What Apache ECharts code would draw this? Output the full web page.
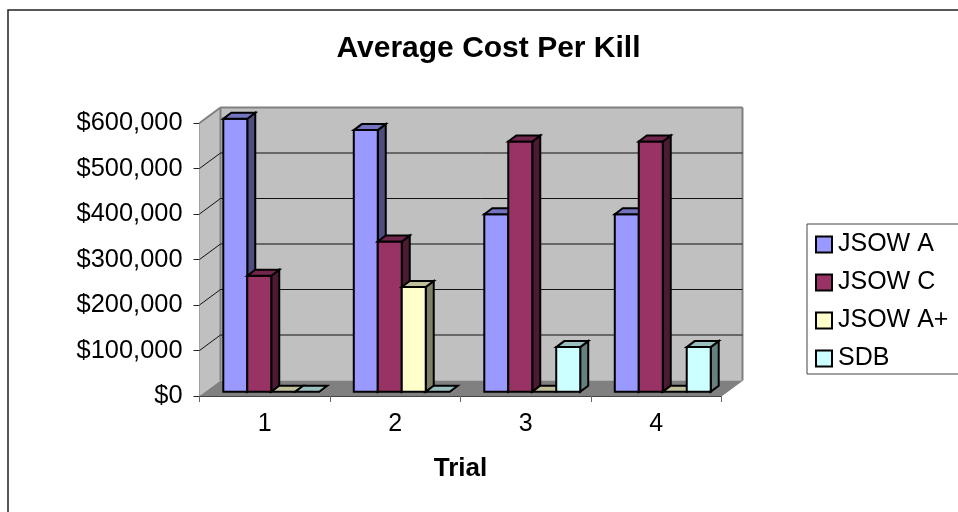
<!DOCTYPE html>
<html>
<head>
<meta charset="utf-8">
<style>html,body{margin:0;padding:0;background:#fff}#c{width:958px;height:512px}</style>
<script src="https://cdn.jsdelivr.net/npm/echarts@6/dist/echarts.min.js"></script>
</head>
<body>
<div id="c"></div>
<script>
var titleText = 'Average Cost Per Kill';
var axisName = 'Trial';
var categories = ['1', '2', '3', '4'];
var yTicks = [0, 100000, 200000, 300000, 400000, 500000, 600000];
var jsowA = [600000, 575000, 390000, 390000];
var jsowC = [255000, 330000, 550000, 550000];
var jsowAPlus = [0, 230000, 0, 0];
var sdb = [0, 0, 98000, 98000];
var seriesNames = ['JSOW A', 'JSOW C', 'JSOW A+', 'SDB'];
var seriesValues = [jsowA, jsowC, jsowAPlus, sdb];
var frontColors = ['#9999FF', '#993366', '#FFFFCC', '#CCFFFF'];
var sideColors = ['#4D4D80', '#4D1A33', '#808066', '#668080'];
var topColors = ['#7373BF', '#73264D', '#BFBF99', '#99BFBF'];

var FONT = '"Liberation Sans", Arial, sans-serif';
var DX = 21, DY = -15.5;       // wall depth
var IN_X = 6.5, IN_Y = -4.3;   // bar inset from the front edge
var BX = 8, BY = -6;           // bar depth
var BAR_RATIO = 24 / 130.6;

function poly(pts, fill, stroke, w) {
  return {type: 'polygon', shape: {points: pts},
    style: {fill: fill, stroke: stroke || null, lineWidth: w || 0, lineJoin: 'miter'}};
}
function line(a, b, stroke, w) {
  return {type: 'line', shape: {x1: a[0], y1: a[1], x2: b[0], y2: b[1]},
    style: {stroke: stroke, lineWidth: w}};
}

function renderWalls(params, api) {
  var v = api.value(0);
  var grid = params.coordSys;
  var L = grid.x, R = grid.x + grid.width;
  var y = api.coord([0, v])[1];
  var kids = [];
  if (params.dataIndex === 0) {
    var T = grid.y, B = grid.y + grid.height;
    kids.push(poly([[L, T], [L + DX, T + DY], [L + DX, B + DY], [L, B]], '#C0C0C0'));
    kids.push(poly([[L + DX, T + DY], [R + DX, T + DY], [R + DX, B + DY], [L + DX, B + DY]], '#C0C0C0'));
    kids.push(poly([[L, B], [L + DX, B + DY], [R + DX, B + DY], [R, B]], '#808080'));
    kids.push(line([L, T], [L + DX, T + DY], '#808080', 2));
    kids.push(line([L + DX, T + DY], [R + DX, T + DY], '#808080', 2));
    kids.push(line([R + DX, T + DY], [R + DX, B + DY], '#808080', 2));
    kids.push(line([L + DX, T + DY], [L + DX, B + DY], '#808080', 2));
    kids.push(line([R, B], [R + DX, B + DY], '#808080', 1));
  } else {
    kids.push(line([L + DX, y + DY], [R + DX, y + DY], v === 600000 ? '#808080' : '#111', 1));
    if (v !== 600000) kids.push(line([L, y], [L + DX, y + DY], '#111', 1));
  }
  return {type: 'group', children: kids};
}

function makeBarRenderer(idx) {
  return function (params, api) {
    var cat = api.value(0), val = api.value(1);
    var band = api.size([1, 0])[0];
    var w = band * BAR_RATIO;
    var c0 = api.coord([cat, 0]);
    var c1 = api.coord([cat, val]);
    var x0 = c0[0] - 2 * w + idx * w + IN_X;
    var x1 = x0 + w;
    var yb = c0[1] + IN_Y;
    var yt = c1[1] + IN_Y;
    var kids = [];
    if (val > 0) {
      kids.push(poly([[x1, yt], [x1 + BX, yt + BY], [x1 + BX, yb + BY], [x1, yb]], sideColors[idx], '#000', 2));
      kids.push(poly([[x0, yt], [x1, yt], [x1, yb], [x0, yb]], frontColors[idx], '#000', 2));
    }
    kids.push(poly([[x0, yt], [x0 + BX, yt + BY], [x1 + BX, yt + BY], [x1, yt]], topColors[idx], '#000', 2));
    return {type: 'group', children: kids};
  };
}

var series = [{
  type: 'custom',
  name: 'walls',
  z: 1,
  silent: true,
  encode: {x: 0, y: 1},
  data: yTicks.map(function (t) { return [t, t]; }),
  renderItem: function (params, api) {
    return renderWalls(params, {
      value: function () { return api.value(1); },
      coord: function (p) { return api.coord([0, p[1]]); }
    });
  }
}];
seriesNames.forEach(function (name, idx) {
  series.push({
    type: 'custom',
    name: name,
    z: 2 + idx,
    encode: {x: 0, y: 1},
    itemStyle: {color: frontColors[idx]},
    data: seriesValues[idx].map(function (v, i) { return [i, v]; }),
    renderItem: makeBarRenderer(idx)
  });
});

var chart = echarts.init(document.getElementById('c'), null, {renderer: 'canvas'});
chart.setOption({
  animation: false,
  backgroundColor: '#fff',
  title: {
    text: titleText, left: 483.5, top: 29, textAlign: 'center',
    textStyle: {fontFamily: FONT, fontWeight: 'bold', fontSize: 30, color: '#000'}
  },
  graphic: [{
    type: 'rect', silent: true, z: -1,
    shape: {x: 8, y: 10, width: 1100, height: 700},
    style: {fill: '#fff', stroke: '#222', lineWidth: 1.5}
  }],
  legend: {
    data: seriesNames, orient: 'vertical', left: 807, top: 224,
    icon: 'rect', itemWidth: 16, itemHeight: 16, itemGap: 13,
    padding: [8, 60, 3, 8],
    backgroundColor: '#fff', borderColor: '#444', borderWidth: 1,
    itemStyle: {borderColor: '#000', borderWidth: 2},
    selectedMode: false,
    textStyle: {fontFamily: FONT, fontSize: 25, color: '#000', padding: [0, 0, 0, 1]}
  },
  grid: {left: 199.5, right: 236.5, top: 123, bottom: 116, containLabel: false},
  xAxis: {
    type: 'category', data: categories,
    name: axisName, nameLocation: 'middle', nameGap: 60,
    nameTextStyle: {fontFamily: FONT, fontWeight: 'bold', fontSize: 26, color: '#000'},
    axisLine: {lineStyle: {color: '#444', width: 1}},
    axisTick: {show: true, length: 6, lineStyle: {color: '#666'}},
    axisLabel: {fontFamily: FONT, fontSize: 25, color: '#000', margin: 16},
    splitLine: {show: false}
  },
  yAxis: {
    type: 'value', min: 0, max: 600000, interval: 100000,
    axisLine: {show: true, lineStyle: {color: '#808080', width: 2}},
    axisTick: {show: true, length: 6, lineStyle: {color: '#222'}},
    axisLabel: {
      fontFamily: FONT, fontSize: 25.4, color: '#000', margin: 17, padding: [2, 0, 0, 0],
      formatter: function (v) { return '$' + v.toString().replace(/\B(?=(\d{3})+$)/g, ','); }
    },
    splitLine: {show: false}
  },
  series: series
});
</script>
</body>
</html>
